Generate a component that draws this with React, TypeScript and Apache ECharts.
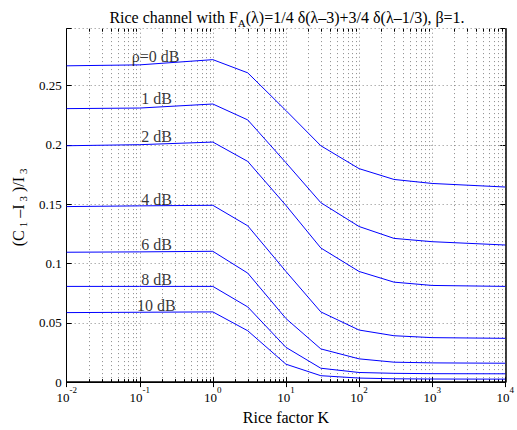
import React, { useEffect, useRef } from 'react';
import * as echarts from 'echarts';

// Rice factor K sample points
const kValues = [0.01, 0.1, 1, 3, 10, 30, 100, 300, 1000, 10000];

// (C1 - I3) / I3 for each rho
const rho0dB = [0.2667, 0.2675, 0.2719, 0.2608, 0.229, 0.1993, 0.18, 0.1709, 0.1675, 0.1645];
const rho1dB = [0.2306, 0.2311, 0.2345, 0.2211, 0.185, 0.1513, 0.1312, 0.1212, 0.1184, 0.1156];
const rho2dB = [0.1993, 0.2002, 0.2024, 0.1861, 0.149, 0.1131, 0.0933, 0.0843, 0.0815, 0.0807];
const rho4dB = [0.148, 0.1486, 0.1491, 0.1318, 0.0933, 0.0592, 0.0439, 0.0391, 0.0375, 0.0369];
const rho6dB = [0.1095, 0.1098, 0.1103, 0.0919, 0.0536, 0.028, 0.0196, 0.0168, 0.0162, 0.0159];
const rho8dB = [0.0807, 0.0807, 0.0807, 0.0634, 0.0293, 0.0117, 0.0081, 0.0074, 0.0071, 0.007];
const rho10dB = [0.0586, 0.0589, 0.0592, 0.0433, 0.0151, 0.0054, 0.0034, 0.0028, 0.0026, 0.0025];

const curves = [rho0dB, rho1dB, rho2dB, rho4dB, rho6dB, rho8dB, rho10dB];
const curveNames = ['ρ=0 dB', '1 dB', '2 dB', '4 dB', '6 dB', '8 dB', '10 dB'];

// curve annotation anchors (data coords)
const labelK = [0.165, 0.17, 0.17, 0.17, 0.17, 0.17, 0.168];
const labelY = [0.2745, 0.239, 0.2068, 0.1538, 0.116, 0.0868, 0.0648];

// log-grid minor lines
const decades = [0.01, 0.1, 1, 10, 100, 1000];
const multipliers = [2, 3, 4, 5, 6, 7, 8, 9];

const X_MIN = 0.01;
const X_MAX = 10000;
const Y_MIN = 0;
const Y_MAX = 0.298;
const Y_STEP = 0.05;

const FONT = 'Liberation Serif';
const GRID_COLOR = '#8a8a8a';

export default function App() {
  const ref = useRef<HTMLDivElement>(null);

  useEffect(() => {
    if (!ref.current) return;
    const chart = echarts.init(ref.current, undefined, { renderer: 'svg' });

    const minorK: number[] = [];
    decades.forEach((d) => multipliers.forEach((m) => minorK.push(+(d * m).toPrecision(6))));

    const yLabel = (v: number) => {
      const q = v / Y_STEP;
      if (Math.abs(q - Math.round(q)) > 1e-6) return '';
      return String(+v.toFixed(2));
    };

    const xLabel = (v: number) => {
      const e = Math.round(Math.log10(v));
      return `{b|10}{s|${e}}`;
    };

    const option: any = {
      animation: false,
      backgroundColor: '#fff',
      title: {
        text: 'Rice channel with F{sub|A}(λ)=1/4 δ(λ–3)+3/4 δ(λ–1/3), β=1.',
        left: 282,
        top: 1,
        textAlign: 'center',
        textStyle: {
          fontFamily: FONT,
          fontSize: 16,
          fontWeight: 'normal',
          color: '#000',
          lineHeight: 22,
          rich: {
            sub: { fontFamily: FONT, fontSize: 11, color: '#000', verticalAlign: 'bottom', lineHeight: 11 },
          },
        },
      },
      grid: { left: 58, right: 5.5, top: 28.7, bottom: 44.5, containLabel: false },
      xAxis: [
        {
          type: 'log',
          logBase: 10,
          min: X_MIN,
          max: X_MAX,
          splitNumber: 6,
          position: 'bottom',
          name: 'Rice factor K',
          nameLocation: 'middle',
          nameGap: 20,
          nameTextStyle: { fontFamily: FONT, fontSize: 16, color: '#000' },
          axisLine: { show: true, lineStyle: { color: '#000', width: 1.5 } },
          axisTick: { show: true, inside: true, length: 5, lineStyle: { color: '#000' } },
          minorTick: { show: false },
          axisLabel: {
            margin: 3,
            formatter: xLabel,
            rich: {
              b: { fontFamily: FONT, fontSize: 13, color: '#000', lineHeight: 19, verticalAlign: 'bottom' },
              s: { fontFamily: FONT, fontSize: 9, color: '#000', lineHeight: 10, verticalAlign: 'top' },
            },
          },
          splitLine: { show: true, lineStyle: { color: GRID_COLOR, type: [1, 3], width: 1 } },
        },
        {
          type: 'log',
          logBase: 10,
          min: X_MIN,
          max: X_MAX,
          splitNumber: 6,
          position: 'top',
          axisLine: { show: true, lineStyle: { color: '#000', width: 1 } },
          axisTick: { show: true, inside: true, length: 5, lineStyle: { color: '#000' } },
          axisLabel: { show: false },
          splitLine: { show: false },
        },
      ],
      yAxis: [
        {
          type: 'value',
          min: Y_MIN,
          max: Y_MAX,
          interval: Y_STEP,
          position: 'left',
          name: '(C{sub|1}–I{sub|3})/I{sub|3}',
          nameLocation: 'middle',
          nameGap: 34,
          nameRotate: 90,
          nameTextStyle: {
            fontFamily: FONT,
            fontSize: 16,
            color: '#000',
            lineHeight: 20,
            rich: {
              sub: {
                fontFamily: FONT,
                fontSize: 11,
                color: '#000',
                verticalAlign: 'bottom',
                lineHeight: 10,
                padding: [0, 4, 0, 3],
              },
            },
          },
          axisLine: { show: true, lineStyle: { color: '#000', width: 1 } },
          axisTick: { show: true, inside: true, length: 5, lineStyle: { color: '#000' } },
          axisLabel: { margin: 5, formatter: yLabel, fontFamily: FONT, fontSize: 13, color: '#000' },
          splitLine: { show: true, lineStyle: { color: GRID_COLOR, type: [1, 3], width: 1 } },
        },
        {
          type: 'value',
          min: Y_MIN,
          max: Y_MAX,
          interval: Y_STEP,
          position: 'right',
          axisLine: { show: true, lineStyle: { color: '#000', width: 1.5 } },
          axisTick: { show: true, inside: true, length: 5, lineStyle: { color: '#000' } },
          axisLabel: { show: false },
          splitLine: { show: false },
        },
      ],
      series: [
        {
          type: 'custom',
          silent: true,
          xAxisIndex: 0,
          yAxisIndex: 0,
          data: minorK.map((k) => [k, Y_MIN]),
          renderItem: (_params: any, api: any) => {
            const k = api.value(0);
            const b = api.coord([k, Y_MIN]);
            const t = api.coord([k, Y_MAX]);
            const x = Math.round(b[0]) + 0.5;
            return {
              type: 'group',
              children: [
                {
                  type: 'line',
                  shape: { x1: x, y1: b[1], x2: x, y2: t[1] },
                  style: { stroke: GRID_COLOR, lineWidth: 1, lineDash: [1, 3] },
                },
                {
                  type: 'line',
                  shape: { x1: x, y1: b[1], x2: x, y2: b[1] - 3 },
                  style: { stroke: '#000', lineWidth: 1 },
                },
                {
                  type: 'line',
                  shape: { x1: x, y1: t[1], x2: x, y2: t[1] + 3 },
                  style: { stroke: '#000', lineWidth: 1 },
                },
              ],
            };
          },
          z: 1,
        },
        ...curves.map((vals, i) => ({
          type: 'line',
          name: curveNames[i],
          xAxisIndex: 0,
          yAxisIndex: 0,
          showSymbol: false,
          symbol: 'none',
          silent: true,
          lineStyle: { color: '#0000ff', width: 1 },
          data: kValues.map((k, j) => [k, vals[j]]),
          z: 3,
        })),
        {
          type: 'scatter',
          xAxisIndex: 0,
          yAxisIndex: 0,
          symbolSize: 1,
          silent: true,
          itemStyle: { color: 'rgba(0,0,0,0)' },
          label: {
            show: true,
            position: 'inside',
            formatter: (p: any) => p.name,
            fontFamily: FONT,
            fontSize: 16,
            color: '#000',
          },
          data: curveNames.map((n, i) => ({ name: n, value: [labelK[i], labelY[i]] })),
          z: 4,
        },
      ],
    };

    chart.setOption(option);
    return () => chart.dispose();
  }, []);

  return (
    <div
      ref={ref}
      style={{ position: 'fixed', left: 0, top: 0, width: 517, height: 430, background: '#fff' }}
    />
  );
}
